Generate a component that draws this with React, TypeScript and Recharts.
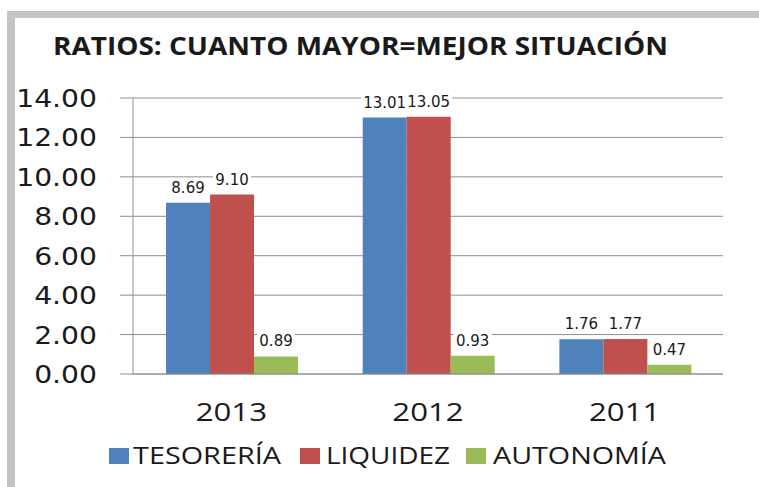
import { BarChart, Bar, XAxis, YAxis, CartesianGrid, LabelList } from 'recharts'

const years = ['2013', '2012', '2011']
const tesoreria = [8.69, 13.01, 1.76]
const liquidez = [9.1, 13.05, 1.77]
const autonomia = [0.89, 0.93, 0.47]
const yTicks = [0, 2, 4, 6, 8, 10, 12, 14]

const seriesNames = ['TESORERÍA', 'LIQUIDEZ', 'AUTONOMÍA']
const colors = ['#4F81BD', '#C0504D', '#9BBB59']

const data = years.map((year, i) => ({
  year,
  tesoreria: tesoreria[i],
  liquidez: liquidez[i],
  autonomia: autonomia[i],
}))

const GRID = '#8f8f8f'
const TEXT = '#1a1a1a'

function YTick({ x, y, payload }: any) {
  return (
    <g transform={`translate(${x},${y}) scale(1.13,1)`}>
      <text textAnchor="end" dy="0.36em" fontFamily="DejaVu Sans" fontSize={25} fill={TEXT}>
        {Number(payload.value).toFixed(2)}
      </text>
    </g>
  )
}

function XTick({ x, y, payload }: any) {
  return (
    <g transform={`translate(${x},${y}) scale(1.2,1)`}>
      <text textAnchor="middle" dy="0.36em" fontFamily="Open Sans" fontSize={26} fill={TEXT}>
        {payload.value}
      </text>
    </g>
  )
}

function ValueLabel({ x, y, width, value }: any) {
  const cx = x + width / 2
  const by = y - 10
  const txt = Number(value).toFixed(2)
  const w = txt.length * 9 + 2
  return (
    <g>
      <rect x={cx - w / 2} y={by - 13} width={w} height={15} fill="#fff" />
      <text x={cx} y={by} textAnchor="middle" fontFamily="DejaVu Sans" fontSize={15} fill={TEXT}>
        {txt}
      </text>
    </g>
  )
}

const legendPos = [
  { sq: 109, tx: 133, tw: 148 },
  { sq: 300, tx: 326, tw: 124 },
  { sq: 466, tx: 493, tw: 173 },
]

export default function App() {
  return (
    <div style={{ position: 'absolute', left: 0, top: 0, width: 759, height: 487, background: '#fff', overflow: 'hidden' }}>
      <div style={{ position: 'absolute', left: 7, top: 11, width: 752, height: 7, background: '#c4c4c4' }} />
      <div style={{ position: 'absolute', left: 7, top: 11, width: 8, height: 476, background: '#c4c4c4' }} />

      <div style={{ position: 'absolute', left: 0, top: 0 }}>
        <BarChart
          width={759}
          height={487}
          data={data}
          margin={{ top: 98, right: 36, left: 0, bottom: 73 }}
          barGap={0}
          barCategoryGap="16.8%"
        >
          <CartesianGrid vertical={false} stroke={GRID} />
          <XAxis
            xAxisId="edges"
            type="number"
            domain={[0, 3]}
            ticks={[0, 1, 2, 3]}
            height={0}
            axisLine={false}
            tickSize={11}
            tickLine={{ stroke: GRID }}
            tick={false}
          />
          <XAxis
            dataKey="year"
            height={40}
            axisLine={{ stroke: GRID }}
            tickLine={false}
            tickSize={0}
            tickMargin={38}
            tick={<XTick />}
          />
          <YAxis
            width={133}
            domain={[0, 14]}
            ticks={yTicks}
            tickSize={13}
            tickMargin={23}
            axisLine={{ stroke: GRID }}
            tickLine={{ stroke: GRID }}
            tick={<YTick />}
          />
          <Bar dataKey="tesoreria" name={seriesNames[0]} fill={colors[0]} isAnimationActive={false}>
            <LabelList dataKey="tesoreria" content={<ValueLabel />} />
          </Bar>
          <Bar dataKey="liquidez" name={seriesNames[1]} fill={colors[1]} isAnimationActive={false}>
            <LabelList dataKey="liquidez" content={<ValueLabel />} />
          </Bar>
          <Bar dataKey="autonomia" name={seriesNames[2]} fill={colors[2]} isAnimationActive={false}>
            <LabelList dataKey="autonomia" content={<ValueLabel />} />
          </Bar>
        </BarChart>
      </div>

      <svg width={759} height={487} style={{ position: 'absolute', left: 0, top: 0, pointerEvents: 'none' }}>
        <text
          x={53}
          y={55}
          textLength={615}
          lengthAdjust="spacingAndGlyphs"
          fontFamily="Open Sans"
          fontWeight="bold"
          fontSize={25}
          fill={TEXT}
        >
          RATIOS: CUANTO MAYOR=MEJOR SITUACIÓN
        </text>
        {seriesNames.map((name, i) => (
          <g key={name}>
            <rect x={legendPos[i].sq} y={448} width={20} height={16} fill={colors[i]} />
            <text
              x={legendPos[i].tx}
              y={464}
              textLength={legendPos[i].tw}
              lengthAdjust="spacingAndGlyphs"
              fontFamily="Open Sans"
              fontSize={24}
              fill={TEXT}
            >
              {name}
            </text>
          </g>
        ))}
      </svg>
    </div>
  )
}
